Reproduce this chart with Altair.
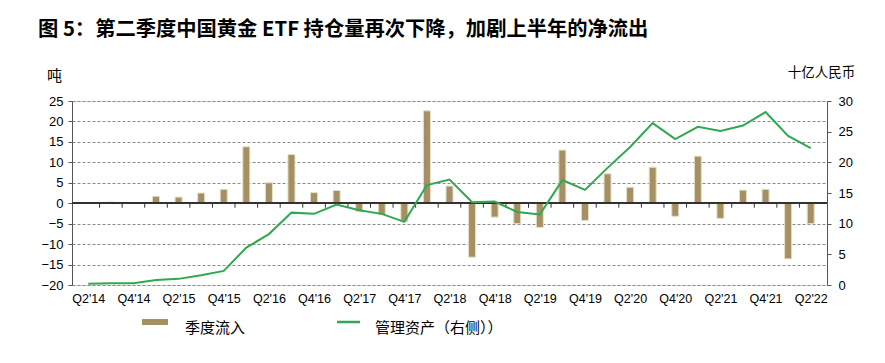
import json
import altair as alt
import pandas as pd

quarters = ["Q2'14", "Q3'14", "Q4'14", "Q1'15", "Q2'15", "Q3'15", "Q4'15",
            "Q1'16", "Q2'16", "Q3'16", "Q4'16", "Q1'17", "Q2'17", "Q3'17", "Q4'17",
            "Q1'18", "Q2'18", "Q3'18", "Q4'18", "Q1'19", "Q2'19", "Q3'19", "Q4'19",
            "Q1'20", "Q2'20", "Q3'20", "Q4'20", "Q1'21", "Q2'21", "Q3'21", "Q4'21",
            "Q1'22", "Q2'22"]
flows = [0, 0.3, 0, 1.7, 1.5, 2.5, 3.4, 13.8, 5.0, 11.9, 2.6, 3.1, -2.0, -2.8, -4.4,
         22.6, 4.2, -13.2, -3.4, -5.0, -5.9, 13.0, -4.2, 7.2, 3.9, 8.8, -3.2, 11.5,
         -3.7, 3.2, 3.4, -13.6, -5.0]
aum = [0.2, 0.3, 0.3, 0.8, 1.0, 1.6, 2.3, 6.1, 8.3, 11.8, 11.6, 13.1, 12.2, 11.6, 10.3,
       16.3, 17.2, 13.5, 13.6, 11.9, 11.5, 17.1, 15.5, 19.1, 22.5, 26.4, 23.8, 25.8,
       25.1, 26.0, 28.2, 24.3, 22.3]
legend_names = ["季度流入", "管理资产（右侧））"]
title_text = "图 5：第二季度中国黄金 ETF 持仓量再次下降，加剧上半年的净流出"
left_title = "吨"
right_title = "十亿人民币"

BAR = "#A59063"
GREEN = "#2FA84F"
NUM_FONT = "Liberation Sans"
CJK = "Noto Sans CJK SC"

df = pd.DataFrame({"idx": list(range(len(quarters))), "q": quarters,
                   "flow": flows, "aum": aum})
bounds = pd.DataFrame({"b": [i + 0.5 for i in range(len(quarters) - 1)]})

xscale = alt.Scale(domain=[-0.5, len(quarters) - 0.5], nice=False, zero=False)
xaxis = alt.Axis(values=list(range(0, len(quarters), 2)),
                 labelExpr=json.dumps(quarters) + "[datum.value]",
                 ticks=False, domain=False, grid=False, title=None,
                 labelFont=NUM_FONT, labelFontSize=12.5, labelColor="#000",
                 labelPadding=7, labelFlush=False, labelOverlap=False)

lscale = alt.Scale(domain=[-20, 25], nice=False, zero=False)
laxis = alt.Axis(orient="left", values=list(range(-20, 26, 5)), title=left_title,
                 titleAngle=0, titleX=-18, titleY=-26, titleAlign="center",
                 titleBaseline="middle", titleFont=CJK, titleFontSize=15,
                 titleFontWeight="normal", titleColor="#000",
                 labelFont=NUM_FONT, labelFontSize=13, labelColor="#000",
                 labelPadding=5, labelOverlap=False, labelFlush=False,
                 tickSize=4, tickColor="#555", domainColor="#555",
                 grid=True, gridColor="#8a8a8a", gridDash=[3, 2], gridWidth=1)

rscale = alt.Scale(domain=[0, 30], nice=False, zero=False)
raxis = alt.Axis(orient="right", values=list(range(0, 31, 5)), title=right_title,
                 titleAngle=0, titleX=-6, titleY=-29, titleAlign="center",
                 titleBaseline="middle", titleFont=CJK, titleFontSize=13.5,
                 titleFontWeight="normal", titleColor="#000",
                 labelFont=NUM_FONT, labelFontSize=13, labelColor="#000",
                 labelPadding=7, labelOverlap=False, labelFlush=False,
                 tickSize=4, tickColor="#555", domainColor="#555",
                 grid=False)

base = alt.Chart(df)

bars = base.mark_bar(size=7, color=BAR, stroke="#E6DEC6", strokeWidth=1).encode(
    x=alt.X("idx:Q", scale=xscale, axis=xaxis),
    y=alt.Y("flow:Q", scale=lscale, axis=laxis),
)
zero = base.mark_rule(color="#333", strokeWidth=1).encode(
    y=alt.datum(0, scale=lscale, axis=laxis)
)
ticks = alt.Chart(bounds).mark_rule(color="#333", strokeWidth=1).encode(
    x=alt.X("b:Q", scale=xscale, axis=xaxis),
    y=alt.datum(0, scale=lscale, axis=laxis),
    y2=alt.datum(-1.1),
)
left = alt.layer(bars, zero, ticks)

line = base.mark_line(color=GREEN, strokeWidth=2).encode(
    x=alt.X("idx:Q", scale=xscale, axis=xaxis),
    y=alt.Y("aum:Q", scale=rscale, axis=raxis),
)

leg = pd.DataFrame({"name": legend_names})
leg_rect = alt.Chart(leg.iloc[[0]]).mark_rect(color=BAR).encode(
    x=alt.value(70), x2=alt.value(96), y=alt.value(218), y2=alt.value(224))
leg_line = alt.Chart(leg.iloc[[1]]).mark_rule(color=GREEN, strokeWidth=2.5).encode(
    x=alt.value(265), x2=alt.value(288), y=alt.value(221))
leg_t1 = alt.Chart(leg.iloc[[0]]).mark_text(
    font=CJK, fontSize=15, align="left", baseline="middle", color="#000").encode(
    x=alt.value(113), y=alt.value(227), text="name:N")
leg_t2 = alt.Chart(leg.iloc[[1]]).mark_text(
    font=CJK, fontSize=15, align="left", baseline="middle", color="#000").encode(
    x=alt.value(303), y=alt.value(227), text="name:N")

chart = alt.layer(left, line, leg_rect, leg_line, leg_t1, leg_t2).resolve_scale(
    y="independent"
).properties(
    width=755, height=184,
    padding={"left": 64, "top": 93, "right": 50, "bottom": 70},
    autosize=alt.AutoSizeParams(type="none"),
    title=alt.TitleParams(title_text, anchor="start", frame="group", dx=-34,
                          font=CJK, fontSize=20.3, fontWeight="bold",
                          color="#000", offset=25),
).configure_view(stroke=None).configure(background="white")

chart.save("out.html", embed_options={"renderer": "svg", "actions": False})
